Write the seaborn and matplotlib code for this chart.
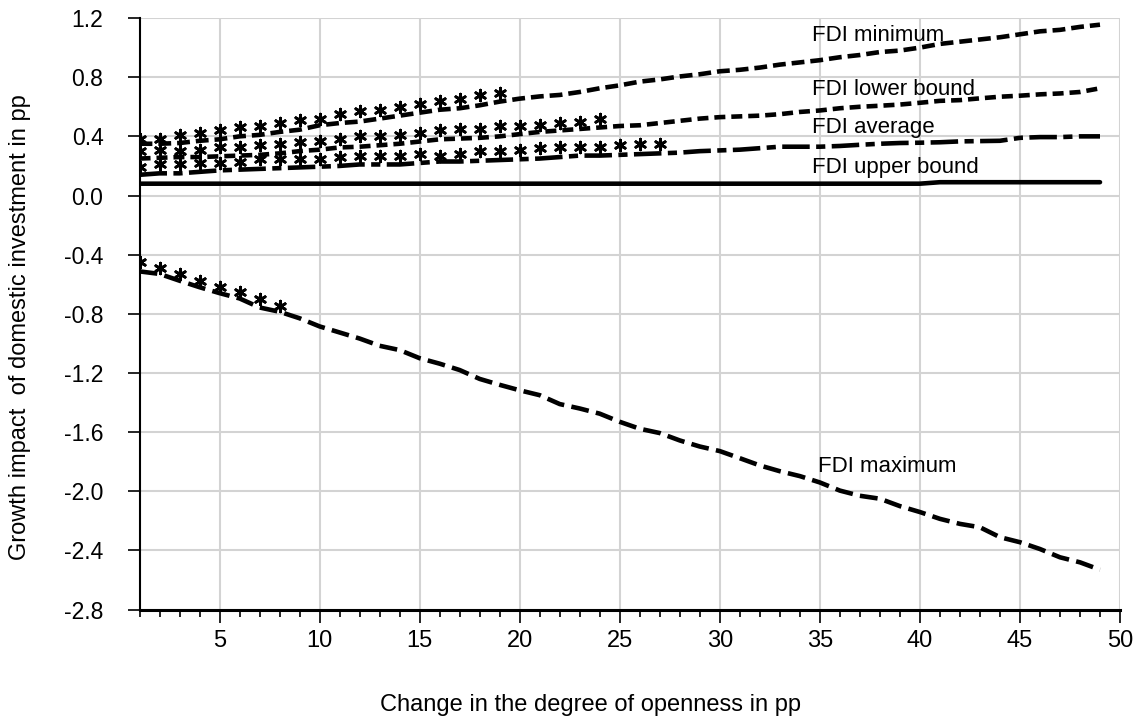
import numpy as np
import pandas as pd
import seaborn as sns
import matplotlib
matplotlib.use('Agg')
import matplotlib.pyplot as plt
from matplotlib.ticker import MultipleLocator, FormatStrFormatter

# x axis: change in the degree of openness (pp)
openness = list(range(1, 50))

fdi_minimum = [0.35, 0.35, 0.355, 0.37, 0.38, 0.40, 0.41, 0.43, 0.445, 0.475,
               0.49, 0.50, 0.52, 0.54, 0.56, 0.58, 0.59, 0.61, 0.635, 0.655,
               0.67, 0.68, 0.70, 0.725, 0.745, 0.77, 0.785, 0.805, 0.82, 0.84,
               0.85, 0.865, 0.885, 0.90, 0.915, 0.935, 0.95, 0.97, 0.98, 1.00,
               1.025, 1.04, 1.055, 1.07, 1.09, 1.11, 1.12, 1.14, 1.155]
fdi_lower = [0.25, 0.255, 0.26, 0.26, 0.265, 0.27, 0.275, 0.285, 0.30, 0.31,
             0.325, 0.33, 0.34, 0.35, 0.365, 0.38, 0.385, 0.39, 0.40, 0.415,
             0.43, 0.44, 0.45, 0.46, 0.47, 0.475, 0.49, 0.505, 0.52, 0.53,
             0.535, 0.54, 0.55, 0.565, 0.575, 0.59, 0.60, 0.607, 0.615, 0.627,
             0.64, 0.645, 0.657, 0.668, 0.675, 0.684, 0.69, 0.70, 0.725]
fdi_average = [0.14, 0.15, 0.15, 0.16, 0.17, 0.175, 0.18, 0.185, 0.19, 0.195,
               0.20, 0.21, 0.21, 0.21, 0.22, 0.23, 0.23, 0.235, 0.24, 0.245,
               0.25, 0.26, 0.27, 0.27, 0.275, 0.28, 0.285, 0.29, 0.30, 0.305,
               0.31, 0.32, 0.33, 0.33, 0.33, 0.335, 0.343, 0.35, 0.355, 0.357,
               0.36, 0.366, 0.368, 0.37, 0.39, 0.395, 0.395, 0.40, 0.40]
fdi_upper = [0.08] * 40 + [0.09] * 9
fdi_maximum = [-0.513, -0.53, -0.576, -0.62, -0.66, -0.696, -0.757, -0.786, -0.83, -0.885,
               -0.926, -0.967, -1.016, -1.045, -1.10, -1.137, -1.18, -1.24, -1.28, -1.317,
               -1.35, -1.41, -1.44, -1.475, -1.53, -1.577, -1.606, -1.656, -1.697, -1.728,
               -1.776, -1.825, -1.864, -1.897, -1.94, -1.995, -2.03, -2.05, -2.10, -2.14,
               -2.186, -2.22, -2.243, -2.31, -2.344, -2.39, -2.446, -2.48, -2.53]

# asterisk markers (shown over the first part of four of the lines)
star_minimum = [0.38, 0.385, 0.41, 0.42, 0.44, 0.46, 0.47, 0.49, 0.51, 0.52,
                0.55, 0.57, 0.58, 0.60, 0.62, 0.64, 0.65, 0.68, 0.69]
star_lower = [0.30, 0.31, 0.30, 0.31, 0.325, 0.33, 0.34, 0.35, 0.365, 0.37,
              0.385, 0.40, 0.40, 0.41, 0.42, 0.445, 0.45, 0.45, 0.47, 0.47,
              0.48, 0.49, 0.50, 0.52]
star_average = [0.19, 0.21, 0.21, 0.22, 0.22, 0.23, 0.25, 0.25, 0.245, 0.25,
                0.26, 0.265, 0.265, 0.27, 0.28, 0.27, 0.28, 0.30, 0.30, 0.305,
                0.32, 0.325, 0.325, 0.33, 0.34, 0.345, 0.35]
star_maximum = [-0.45, -0.49, -0.53, -0.58, -0.617, -0.655, -0.70, -0.745]

series_names = ["FDI minimum", "FDI lower bound", "FDI average", "FDI upper bound", "FDI maximum"]
series_values = [fdi_minimum, fdi_lower, fdi_average, fdi_upper, fdi_maximum]
star_values = [star_minimum, star_lower, star_average, star_maximum]

# label positions (x, y) for the in-plot text
label_pos = {"FDI minimum": (34.6, 1.085), "FDI lower bound": (34.6, 0.72),
             "FDI average": (34.6, 0.457), "FDI upper bound": (34.6, 0.19),
             "FDI maximum": (34.9, -1.83)}

lines_df = pd.concat([pd.DataFrame({"x": openness, "y": v, "series": n})
                      for n, v in zip(series_names, series_values)], ignore_index=True)
stars_df = pd.concat([pd.DataFrame({"x": openness[:len(v)], "y": v}) for v in star_values],
                     ignore_index=True)

sns.set_theme(style="whitegrid")
plt.rcParams['font.family'] = ['Liberation Sans', 'DejaVu Sans']
plt.rcParams['text.color'] = 'black'
plt.rcParams['axes.labelcolor'] = 'black'
plt.rcParams['xtick.color'] = 'black'
plt.rcParams['ytick.color'] = 'black'

fig = plt.figure(figsize=(11.41, 7.27), dpi=100)
ax = fig.add_axes([0.1223, 0.1614, 0.8593, 0.8138])

dash_map = {"FDI minimum": (2.8, 1.3), "FDI lower bound": (2.4, 1.3),
            "FDI average": (6.0, 1.4, 2.0, 1.4), "FDI upper bound": "",
            "FDI maximum": (3.9, 1.6)}
sns.lineplot(data=lines_df, x="x", y="y", hue="series", style="series",
             palette={n: "black" for n in series_names}, dashes=dash_map,
             linewidth=3.3, legend=False, ax=ax)
sns.scatterplot(data=stars_df, x="x", y="y", marker=(6, 2, 0), s=60,
                color="black", edgecolor="black", linewidth=2.0, legend=False, ax=ax)

for name, (tx, ty) in label_pos.items():
    ax.text(tx, ty, name, fontsize=16, va="center", ha="left", color="black")

ax.set_xlim(1, 50)
ax.set_ylim(-2.8, 1.2)
ax.xaxis.set_major_locator(MultipleLocator(5))
ax.xaxis.set_minor_locator(MultipleLocator(1))
ax.yaxis.set_major_locator(MultipleLocator(0.4))
ax.yaxis.set_major_formatter(FormatStrFormatter('%.1f'))

ax.grid(True, which="major", color="#d3d3d3", linewidth=1.5)
ax.set_axisbelow(True)
for side in ["top", "right"]:
    ax.spines[side].set_visible(False)
ax.spines["left"].set_color("black")
ax.spines["left"].set_linewidth(1.5)
ax.spines["bottom"].set_color("black")
ax.spines["bottom"].set_linewidth(2.2)

ax.tick_params(axis="y", which="major", direction="out", length=9, width=1.2,
               color="black", labelcolor="black", labelsize=16.5, pad=17, left=True)
ax.tick_params(axis="x", which="major", direction="out", length=9, width=1.2,
               color="black", labelcolor="black", labelsize=17, pad=6, bottom=True)
ax.tick_params(axis="x", which="minor", direction="out", length=5, width=1.2,
               color="black", bottom=True)

ax.set_xlabel("Change in the degree of openness in pp", fontsize=17, labelpad=30, color="black")
ax.set_ylabel("Growth impact  of domestic investment in pp", fontsize=17, labelpad=24, color="black")
ax.xaxis.label.set_x(0.46)
ax.yaxis.label.set_y(0.478)

fig.savefig("out.png", dpi=100)
